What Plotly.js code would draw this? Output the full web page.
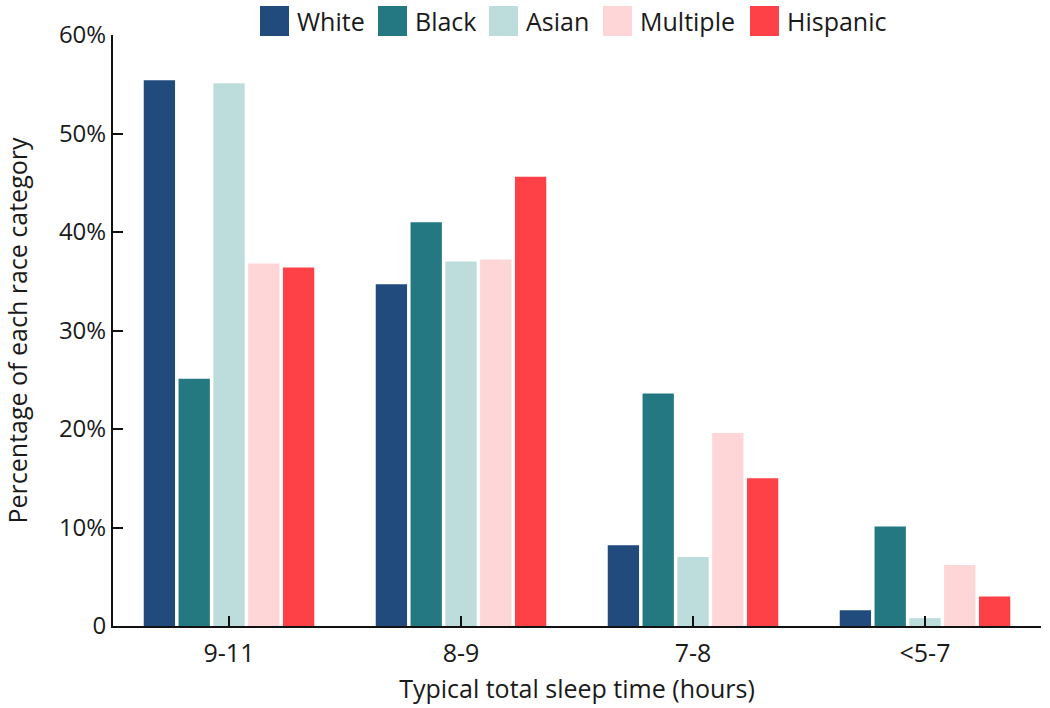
<!DOCTYPE html>
<html>
<head>
<meta charset="utf-8">
<script src="https://cdn.plot.ly/plotly-3.0.1.min.js"></script>
<style>html,body{margin:0;padding:0;background:#fff;}#chart{width:1050px;height:708px;}</style>
</head>
<body>
<div id="chart"></div>
<script>
const categories = ["9-11", "8-9", "7-8", "<5-7"];
const seriesNames = ["White", "Black", "Asian", "Multiple", "Hispanic"];
const white = [55.4, 34.7, 8.2, 1.6];
const black = [25.1, 41.0, 23.6, 10.1];
const asian = [55.1, 37.0, 7.0, 0.8];
const multiple = [36.8, 37.2, 19.6, 6.2];
const hispanic = [36.4, 45.6, 15.0, 3.0];
const colors = ["#214a7d", "#237881", "#bddcdc", "#ffd6d8", "#fe4146"];
const yTickVals = [0, 10, 20, 30, 40, 50, 60];
const yTickText = ["0", "10%", "20%", "30%", "40%", "50%", "60%"];

const allSeries = [white, black, asian, multiple, hispanic];
const FONT = "Open Sans, sans-serif";
const traces = allSeries.map((vals, i) => ({
  type: "bar",
  name: seriesNames[i],
  x: categories,
  y: vals,
  marker: {color: colors[i]},
  showlegend: false,
  hoverinfo: "x+y+name"
}));

// custom legend (large swatches) in paper coordinates
const legendX = [260, 378, 489, 603, 750];
const shapes = [];
const annotations = [];
const plotL = 113, plotW = 1041 - 113, plotT = 35, plotH = 626 - 35;
function px2paperX(px) { return (px - plotL) / plotW; }
function px2paperY(py) { return (plotT + plotH - py) / plotH; }
seriesNames.forEach((n, i) => {
  shapes.push({type: "rect", xref: "paper", yref: "paper",
    x0: px2paperX(legendX[i]), x1: px2paperX(legendX[i] + 29),
    y0: px2paperY(36), y1: px2paperY(6),
    fillcolor: colors[i], line: {width: 0}});
  annotations.push({xref: "paper", yref: "paper", x: px2paperX(legendX[i] + 35), y: px2paperY(21),
    xanchor: "left", yanchor: "middle", text: n, showarrow: false,
    font: {family: FONT, size: 25, color: "#1a1a1a"}});
});

const layout = {
  width: 1050, height: 708,
  margin: {l: 113, r: 9, t: 35, b: 82},
  paper_bgcolor: "#ffffff", plot_bgcolor: "#ffffff",
  barmode: "group", bargap: 0.25, bargroupgap: 0.1,
  font: {family: FONT, color: "#1a1a1a"},
  xaxis: {
    type: "category", range: [-0.5, 3.5],
    showline: true, linecolor: "#111", linewidth: 2,
    ticks: "inside", ticklen: 10, tickcolor: "#111", tickwidth: 2,
    ticklabelstandoff: 4,
    tickfont: {family: FONT, size: 25, color: "#1a1a1a"},
    showgrid: false, zeroline: false,
    title: {text: "Typical total sleep time (hours)", font: {family: FONT, size: 25, color: "#1a1a1a"}, standoff: 12}
  },
  yaxis: {
    range: [0, 60], tickvals: yTickVals, ticktext: yTickText,
    showline: true, linecolor: "#111", linewidth: 2,
    ticks: "inside", ticklen: 10, tickcolor: "#111", tickwidth: 2,
    tickfont: {family: FONT, size: 24, color: "#1a1a1a"},
    showgrid: false, zeroline: false,
    title: {text: "Percentage of each race category", font: {family: FONT, size: 25, color: "#1a1a1a"}, standoff: 26}
  },
  shapes: shapes,
  annotations: annotations
};

Plotly.newPlot("chart", traces, layout, {displayModeBar: false, staticPlot: true});
</script>
</body>
</html>
